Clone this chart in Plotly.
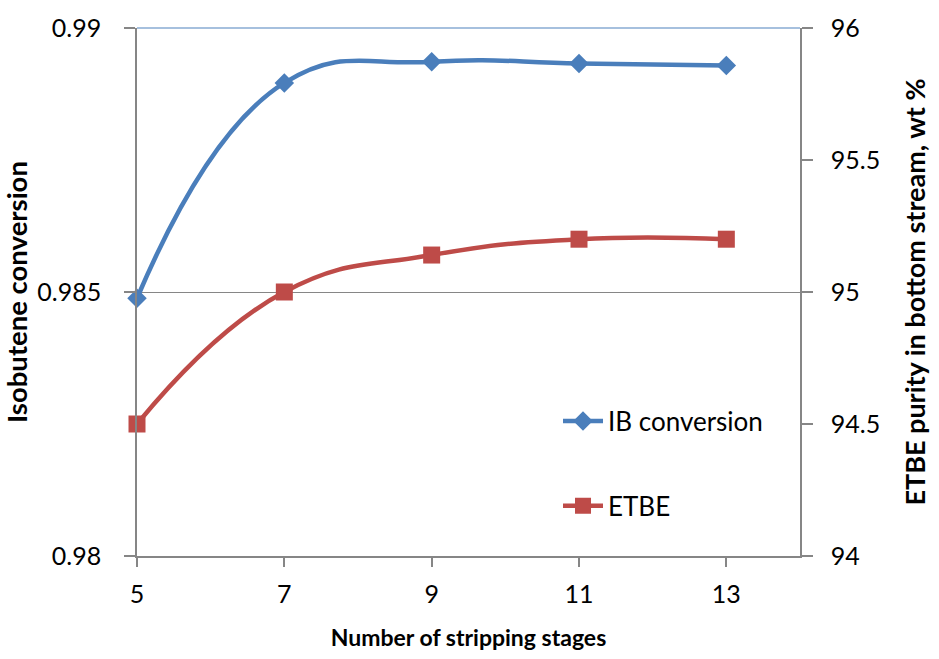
import plotly.graph_objects as go

# Number of stripping stages
stages = [5, 7, 9, 11, 13]
# Isobutene conversion (left axis)
ib_conversion = [0.98488, 0.98896, 0.98936, 0.98933, 0.98929]
# ETBE purity in bottom stream, wt % (right axis)
etbe_purity = [94.5, 95.0, 95.14, 95.2, 95.2]

x_ticks = [5, 7, 9, 11, 13]
left_ticks = [0.98, 0.985, 0.99]
left_labels = ["0.98", "0.985", "0.99"]
right_ticks = [94, 94.5, 95, 95.5, 96]
right_labels = ["94", "94.5", "95", "95.5", "96"]

BLUE = "#4A7EBB"
RED = "#BE4B48"
AXIS = "#868686"
FONT = "Lato"

fig = go.Figure()

fig.add_trace(go.Scatter(
    x=stages, y=ib_conversion, name="IB conversion",
    mode="lines+markers", line=dict(color=BLUE, width=4.5, shape="spline", smoothing=1.3),
    marker=dict(symbol="diamond", size=15, color=BLUE),
    cliponaxis=False, legendgroup="ib", yaxis="y",
))
fig.add_trace(go.Scatter(
    x=stages, y=etbe_purity, name="ETBE",
    mode="lines+markers", line=dict(color=RED, width=4.5, shape="spline", smoothing=1.3),
    marker=dict(symbol="square", size=17, color=RED),
    cliponaxis=False, legendgroup="etbe", yaxis="y2",
))

fig.update_layout(
    width=939, height=659,
    margin=dict(l=137, r=139, t=28, b=101),
    paper_bgcolor="white", plot_bgcolor="white",
    font=dict(family=FONT, color="black", size=25),
    showlegend=True,
    legend=dict(
        x=0.635, y=0.3, xanchor="left", yanchor="top",
        bgcolor="rgba(0,0,0,0)", font=dict(size=26, family=FONT),
        tracegroupgap=48, itemwidth=40,
    ),
    xaxis=dict(
        range=[5, 14], tickvals=x_ticks, ticktext=[str(v) for v in x_ticks],
        showline=True, linecolor=AXIS, linewidth=1.5,
        ticks="outside", ticklen=9, tickcolor=AXIS, tickwidth=1.5,
        ticklabelstandoff=6,
        showgrid=False, zeroline=False,
        tickfont=dict(size=25, family=FONT),
        title=dict(text="<b>Number of stripping stages</b>", standoff=23,
                   font=dict(size=23, family=FONT)),
    ),
    yaxis=dict(
        range=[0.98, 0.99], tickvals=left_ticks, ticktext=left_labels,
        showline=True, linecolor=AXIS, linewidth=1.5,
        ticks="outside", ticklen=11, tickcolor=AXIS, tickwidth=1.5,
        ticklabelstandoff=18,
        showgrid=True, gridcolor=AXIS, gridwidth=1.2, zeroline=False,
        tickfont=dict(size=25, family=FONT),
        title=dict(text="<b>Isobutene conversion</b>", standoff=2,
                   font=dict(size=27.5, family=FONT)),
    ),
    yaxis2=dict(
        range=[94, 96], tickvals=right_ticks, ticktext=right_labels,
        overlaying="y", side="right",
        showline=True, linecolor=AXIS, linewidth=1.5,
        ticks="outside", ticklen=11, tickcolor=AXIS, tickwidth=1.5,
        ticklabelstandoff=13,
        showgrid=False, zeroline=False,
        tickfont=dict(size=25, family=FONT),
        title=dict(text="<b>ETBE purity in bottom stream, wt %</b>", standoff=27,
                   font=dict(size=27, family=FONT)),
    ),
    shapes=[dict(type="line", xref="paper", yref="paper", x0=0, x1=1, y0=1, y1=1,
                 line=dict(color="#4F81BD", width=1.2), layer="below")],
)

fig.write_html("out.html")
